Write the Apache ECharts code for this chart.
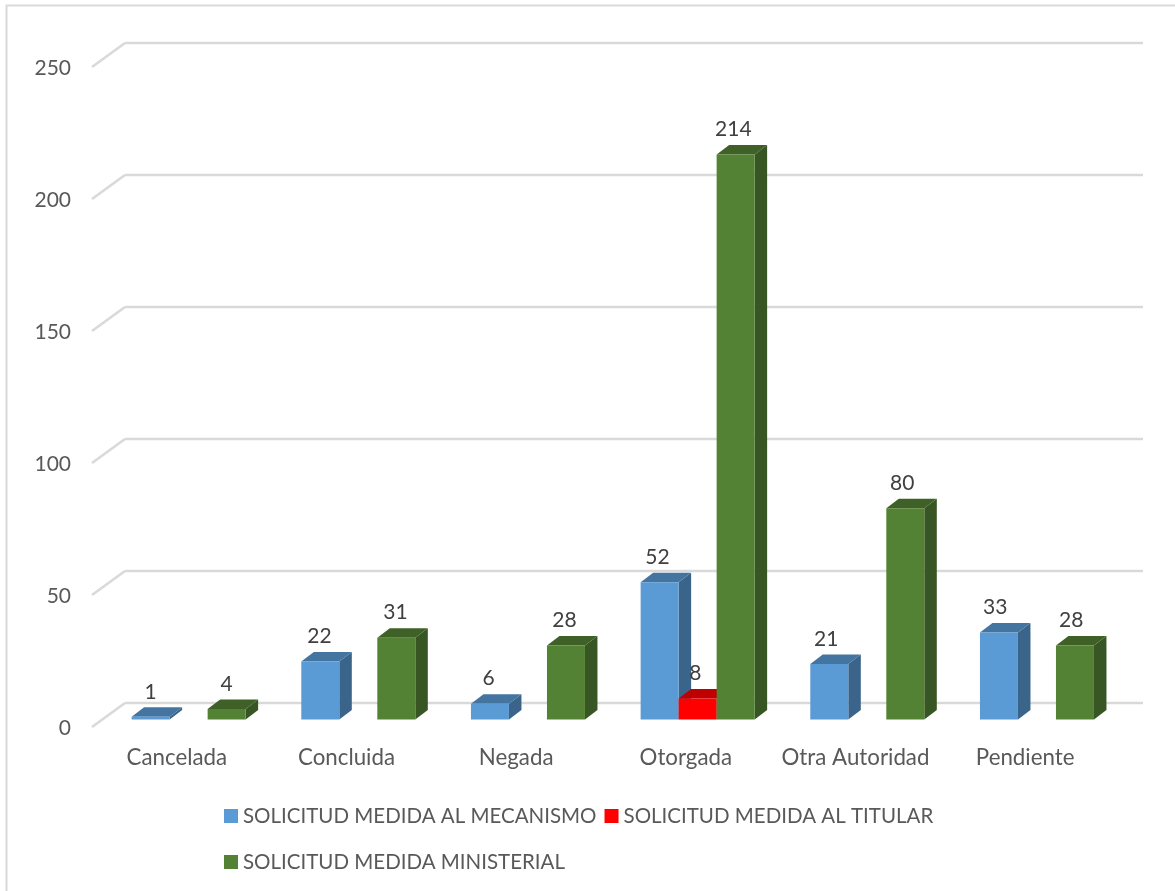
<!DOCTYPE html>
<html>
<head>
<meta charset="utf-8">
<style>html,body{margin:0;padding:0;background:#fff}#c{width:1175px;height:891px}</style>
<script src="https://cdn.jsdelivr.net/npm/echarts@6/dist/echarts.min.js"></script>
</head>
<body>
<div id="c"></div>
<script>
const categories = ['Cancelada','Concluida','Negada','Otorgada','Otra Autoridad','Pendiente'];
const mecanismo = [1,22,6,52,21,33];
const titular = [null,null,null,8,null,null];
const ministerial = [4,31,28,214,80,28];
const yTicks = [0,50,100,150,200,250];

const BAR_W = 38, BAR_DX = 12.5, BAR_DY = 9.5;
const PLANE_DX = 11.8, PLANE_DY = 6.5;
const WALL_DX = 33, WALL_DY = 23;

function barSeries(name, values, offsetIndex, front, top, side) {
  return {
    type: 'custom', name, coordinateSystem: 'cartesian2d',
    data: values.map((v, i) => [i, v]),
    itemStyle: { color: front },
    encode: { x: 0, y: 1 },
    clip: false,
    renderItem(params, api) {
      const cat = api.value(0), val = api.value(1);
      if (val == null || isNaN(val)) return null;
      const p0 = api.coord([cat, 0]), p1 = api.coord([cat, val]);
      const l = p0[0] + PLANE_DX + (offsetIndex - 0.5) * BAR_W;
      const r = l + BAR_W;
      const b = p0[1] - PLANE_DY, t = p1[1] - PLANE_DY;
      const poly = (points, fill) => ({ type: 'polygon', shape: { points }, style: { fill } });
      return {
        type: 'group',
        children: [
          poly([[r,t],[r+BAR_DX,t-BAR_DY],[r+BAR_DX,b-BAR_DY],[r,b]], side),
          poly([[l,t],[l+BAR_DX,t-BAR_DY],[r+BAR_DX,t-BAR_DY],[r,t]], top),
          poly([[l,t],[r,t],[r,b],[l,b]], front),
          { type: 'text', z2: 50, style: {
              x: (l + r) / 2 - 0.75 * cat, y: t - 25, text: String(val),
              fill: '#404040', font: '21px Lato', align: 'center', verticalAlign: 'middle' } }
        ]
      };
    }
  };
}

const gridSeries = {
  type: 'custom', name: 'wall', coordinateSystem: 'cartesian2d',
  data: yTicks.map(v => [0, v]), encode: { y: 1 }, clip: false, silent: true, z: 0,
  renderItem(params, api) {
    const v = api.value(1);
    const a = api.coord([0, v]);
    const cs = params.coordSys;
    const line = (x1, y1, x2, y2) => ({ type: 'line', shape: { x1, y1, x2, y2 },
      style: { stroke: '#d9d9d9', lineWidth: 2.5, fill: null } });
    const y = a[1];
    return { type: 'group', children: [
      line(cs.x, y + 1, cs.x + WALL_DX, y - WALL_DY),
      line(cs.x + WALL_DX, y - WALL_DY, cs.x + cs.width + WALL_DX, y - WALL_DY)
    ] };
  }
};

const chart = echarts.init(document.getElementById('c'), null, { renderer: 'canvas' });
chart.setOption({
  animation: false,
  backgroundColor: '#fff',
  textStyle: { fontFamily: 'Lato' },
  graphic: [{ type: 'polyline', silent: true, shape: { points: [[6.5,891],[6.5,5.5],[1175,5.5]] },
    style: { fill: null, stroke: '#d9d9d9', lineWidth: 2 } }],
  grid: { left: 92, top: 66, width: 1018, height: 660 },
  xAxis: { type: 'category', data: categories,
    axisLine: { show: false }, axisTick: { show: false }, splitLine: { show: false },
    axisLabel: { color: '#595959', fontSize: 22.3, fontFamily: 'Lato', margin: 21, interval: 0 } },
  yAxis: { type: 'value', min: 0, max: 250, interval: 50,
    axisLine: { show: false }, axisTick: { show: false }, splitLine: { show: false },
    axisLabel: { color: '#595959', fontSize: 21, fontFamily: 'Lato', margin: 21, verticalAlign: 'top', lineHeight: 4 } },
  legend: {
    left: 224, top: 797, width: 770, padding: 0, itemWidth: 14, itemHeight: 14, itemGap: 8,
    icon: 'rect', selectedMode: false,
    data: ['SOLICITUD MEDIDA AL MECANISMO','SOLICITUD MEDIDA AL TITULAR','SOLICITUD MEDIDA MINISTERIAL'],
    textStyle: { color: '#595959', fontSize: 20.5, fontFamily: 'Lato', lineHeight: 38 }
  },
  series: [
    gridSeries,
    barSeries('SOLICITUD MEDIDA AL MECANISMO', mecanismo, -1, '#5b9bd5', '#4475a0', '#3a6489'),
    barSeries('SOLICITUD MEDIDA AL TITULAR', titular, 0, '#ff0000', '#bf0000', '#a80000'),
    barSeries('SOLICITUD MEDIDA MINISTERIAL', ministerial, 1, '#548235', '#3f6127', '#375623')
  ]
});
</script>
</body>
</html>
